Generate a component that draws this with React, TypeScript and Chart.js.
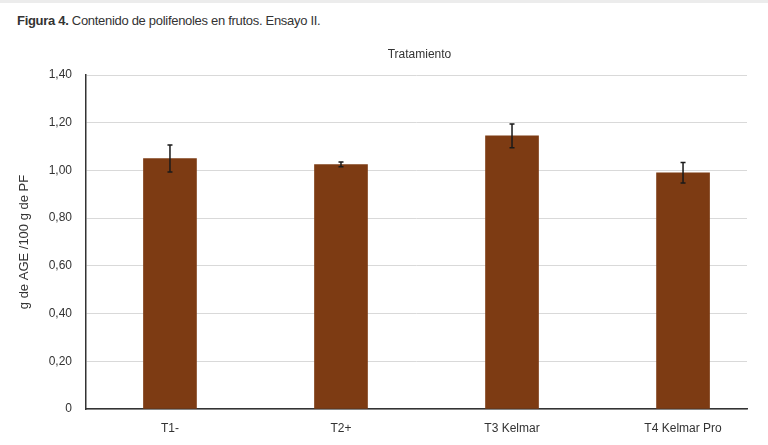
import { useEffect, useRef } from 'react'
import { Chart, registerables } from 'chart.js'

Chart.register(...registerables)

const categories = ['T1-', 'T2+', 'T3 Kelmar', 'T4 Kelmar Pro']
const values = [1.05, 1.025, 1.145, 0.99]
const errors = [0.057, 0.01, 0.05, 0.043]
const yTicks = [0, 0.2, 0.4, 0.6, 0.8, 1.0, 1.2, 1.4]

const FONT = '"Liberation Sans Narrow", "Liberation Sans", sans-serif'

const errorBars = {
  id: 'errorBars',
  afterDatasetsDraw(chart: any) {
    const { ctx, scales } = chart
    ctx.save()
    values.forEach((v, i) => {
      const x = scales.x.getPixelForValue(i)
      const top = scales.y.getPixelForValue(v + errors[i])
      const bot = scales.y.getPixelForValue(v - errors[i])
      ctx.strokeStyle = '#1a1a1a'
      ctx.lineWidth = 1.5
      ctx.beginPath()
      ctx.moveTo(x, top)
      ctx.lineTo(x, bot)
      ctx.moveTo(x - 2.5, top)
      ctx.lineTo(x + 2.5, top)
      ctx.moveTo(x - 2.5, bot)
      ctx.lineTo(x + 2.5, bot)
      ctx.stroke()
    })
    ctx.restore()
  },
}

const topTitle = {
  id: 'topTitle',
  afterDraw(chart: any) {
    const { ctx, chartArea } = chart
    ctx.save()
    ctx.font = '12px ' + FONT
    ctx.fillStyle = '#333'
    ctx.textAlign = 'center'
    ctx.textBaseline = 'middle'
    ctx.fillText('Tratamiento', (chartArea.left + chartArea.right) / 2 + 3, chartArea.top - 20)
    ctx.restore()
  },
}

export default function App() {
  const chartRef = useRef<HTMLCanvasElement>(null)
  const chartInstance = useRef<Chart | null>(null)

  useEffect(() => {
    if (!chartRef.current) return
    if (chartInstance.current) chartInstance.current.destroy()

    chartInstance.current = new Chart(chartRef.current, {
      type: 'bar',
      data: {
        datasets: [
          {
            data: values.map((v, i) => ({ x: i, y: v })),
            backgroundColor: '#7d3b13',
            barThickness: 53,
          },
        ],
      },
      plugins: [errorBars, topTitle],
      options: {
        animation: false,
        responsive: false,
        maintainAspectRatio: false,
        layout: { padding: { top: 75, left: 0, right: 21, bottom: 0 } },
        plugins: { legend: { display: false }, tooltip: { enabled: false } },
        scales: {
          x: {
            type: 'linear',
            min: -0.491,
            max: 3.374,
            offset: false,
            grid: { display: false, drawTicks: false },
            border: { color: '#333', width: 1.5 },
            afterFit: (s: any) => { s.height = 36 },
            afterBuildTicks: (s: any) => {
              s.ticks = categories.map((_, i) => ({ value: i }))
            },
            ticks: {
              autoSkip: false,
              maxRotation: 0,
              padding: 12,
              color: '#333',
              font: { family: FONT, size: 12 },
              callback: (v: any) => categories[v] ?? '',
            },
          },
          y: {
            min: 0,
            max: 1.4,
            afterFit: (s: any) => { s.width = 86 },
            afterBuildTicks: (s: any) => {
              s.ticks = yTicks.map((v) => ({ value: v }))
            },
            grid: { color: '#d9d9d9', lineWidth: 1, drawTicks: false },
            border: { color: '#333', width: 1.5 },
            title: {
              display: true,
              text: 'g de AGE /100 g de PF',
              color: '#333',
              font: { family: FONT, size: 13 },
              padding: { top: 17, bottom: 0 },
            },
            ticks: {
              padding: 14,
              color: '#333',
              font: { family: FONT, size: 12 },
              callback: (v: any) => (v === 0 ? '0' : Number(v).toFixed(2).replace('.', ',')),
            },
          },
        },
      },
    })

    return () => {
      if (chartInstance.current) {
        chartInstance.current.destroy()
        chartInstance.current = null
      }
    }
  }, [])

  return (
    <div style={{ position: 'fixed', left: 0, top: 0, width: 768, height: 445, background: '#fff', overflow: 'hidden' }}>
      <div style={{ position: 'absolute', left: 0, top: 0, width: 768, height: 3, background: '#ececec' }} />
      <div
        style={{
          position: 'absolute',
          left: 17,
          top: 13,
          fontFamily: FONT,
          fontSize: 13,
          letterSpacing: '-0.3px',
          color: '#333',
          whiteSpace: 'nowrap',
        }}
      >
        <b>Figura 4.</b> Contenido de polifenoles en frutos. Ensayo II.
      </div>
      <canvas ref={chartRef} width={768} height={445} style={{ position: 'absolute', left: 0, top: 0 }} />
    </div>
  )
}
